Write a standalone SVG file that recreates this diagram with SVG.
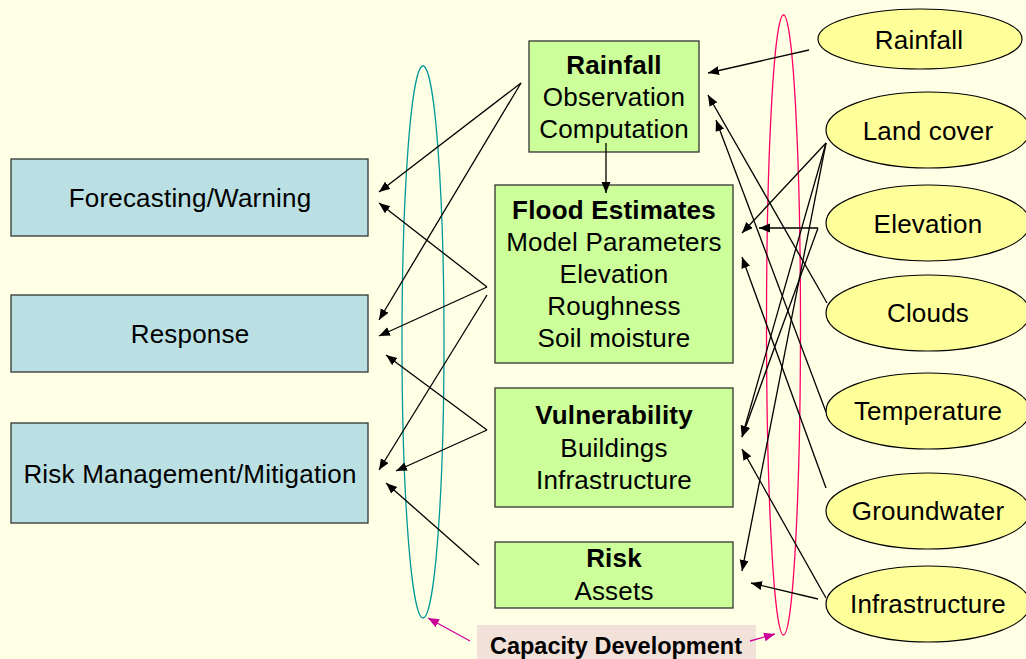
<svg xmlns="http://www.w3.org/2000/svg" width="1026" height="659" viewBox="0 0 1026 659">
<style>
text{font-family:"Liberation Sans",Arial,sans-serif;font-size:26px;letter-spacing:0.2px;fill:#000;text-anchor:middle}
.b{font-weight:bold}
.blue{fill:#BBE0E3;stroke:#333;stroke-width:1.3}
.green{fill:#CCFF99;stroke:#333;stroke-width:1.3}
.oval{fill:#FFFF99;stroke:#000;stroke-width:1.2}
.c{stroke:#000;stroke-width:1.3;fill:none;marker-end:url(#ah)}
.m{stroke:#CC0099;stroke-width:1.3;fill:none;marker-end:url(#ahm)}
</style>
<defs>
<marker id="ah" markerUnits="userSpaceOnUse" markerWidth="12" markerHeight="10" refX="11" refY="4.5" orient="auto"><path d="M0,0 L11,4.5 L0,9 z" fill="#000"/></marker>
<marker id="ahm" markerUnits="userSpaceOnUse" markerWidth="12" markerHeight="10" refX="11" refY="4.5" orient="auto"><path d="M0,0 L11,4.5 L0,9 z" fill="#CC0099"/></marker>
</defs>
<rect width="1026" height="659" fill="#FFFFE5"/>

<g id="forecasting"><rect class="blue" x="11" y="159" width="357" height="77"/><text x="190" y="207">Forecasting/Warning</text></g>
<g id="response"><rect class="blue" x="11" y="295" width="357" height="77"/><text x="190" y="343">Response</text></g>
<g id="riskmgmt"><rect class="blue" x="11" y="423" width="357" height="100"/><text x="190" y="483">Risk Management/Mitigation</text></g>

<g id="rainfall-box"><rect class="green" x="529" y="41" width="170" height="111"/><text class="b" x="614" y="74">Rainfall</text><text x="614" y="106">Observation</text><text x="614" y="138">Computation</text></g>
<g id="flood-box"><rect class="green" x="495" y="185" width="238" height="178"/><text class="b" x="614" y="219">Flood Estimates</text><text x="614" y="251">Model Parameters</text><text x="614" y="283">Elevation</text><text x="614" y="315">Roughness</text><text x="614" y="347">Soil moisture</text></g>
<g id="vuln-box"><rect class="green" x="495" y="388" width="238" height="119"/><text class="b" x="614" y="424">Vulnerability</text><text x="614" y="457">Buildings</text><text x="614" y="489">Infrastructure</text></g>
<g id="risk-box"><rect class="green" x="495" y="542" width="238" height="66"/><text class="b" x="614" y="567">Risk</text><text x="614" y="600">Assets</text></g>

<g id="e-rainfall"><ellipse class="oval" cx="920" cy="39" rx="102" ry="30"/><text x="919" y="49">Rainfall</text></g>
<g id="e-landcover"><ellipse class="oval" cx="928" cy="130" rx="102" ry="38"/><text x="928" y="140">Land cover</text></g>
<g id="e-elevation"><ellipse class="oval" cx="928" cy="223" rx="102" ry="38"/><text x="928" y="233">Elevation</text></g>
<g id="e-clouds"><ellipse class="oval" cx="928" cy="313" rx="102" ry="38"/><text x="928" y="322">Clouds</text></g>
<g id="e-temperature"><ellipse class="oval" cx="928" cy="411" rx="102" ry="38"/><text x="928" y="420">Temperature</text></g>
<g id="e-groundwater"><ellipse class="oval" cx="928" cy="511" rx="102" ry="38"/><text x="928" y="520">Groundwater</text></g>
<g id="e-infrastructure"><ellipse class="oval" cx="928" cy="604" rx="102" ry="38"/><text x="928" y="613">Infrastructure</text></g>

<g id="capacity"><rect x="477" y="625" width="279" height="40" fill="#F2E1D9"/><text class="b" x="616" y="654" style="font-size:23.5px;letter-spacing:0">Capacity Development</text></g>
<g id="capacity-rings"><ellipse cx="423" cy="342" rx="21" ry="276" fill="none" stroke="#009999" stroke-width="1.3"/><ellipse cx="783.5" cy="325" rx="17" ry="310" fill="none" stroke="#FF0066" stroke-width="1.3"/></g>

<g id="connectors">
<line class="c" x1="521" y1="83" x2="379" y2="192"/>
<line class="c" x1="521" y1="83" x2="379" y2="320"/>
<line class="c" x1="487" y1="287" x2="379" y2="203"/>
<line class="c" x1="487" y1="287" x2="379" y2="336"/>
<line class="c" x1="487" y1="295" x2="379" y2="470"/>
<line class="c" x1="487" y1="430" x2="386" y2="355"/>
<line class="c" x1="487" y1="430" x2="396" y2="471"/>
<line class="c" x1="479" y1="565" x2="386" y2="483"/>
<line class="c" x1="606" y1="143" x2="606" y2="193"/>
<line class="c" x1="809" y1="50" x2="708" y2="73"/>
<line class="c" x1="827" y1="303" x2="708" y2="95"/>
<line class="c" x1="826" y1="412" x2="716" y2="120"/>
<line class="c" x1="826" y1="143" x2="742" y2="233"/>
<line class="c" x1="826" y1="143" x2="742" y2="437"/>
<line class="c" x1="826" y1="143" x2="742" y2="571"/>
<line class="c" x1="818" y1="228" x2="759" y2="228"/>
<line class="c" x1="818" y1="228" x2="742" y2="437"/>
<line class="c" x1="826" y1="488" x2="742" y2="257"/>
<line class="c" x1="826" y1="598" x2="742" y2="449"/>
<line class="c" x1="818" y1="599" x2="751" y2="583"/>
<line class="m" x1="470" y1="641" x2="428" y2="618"/>
<line class="m" x1="750" y1="641" x2="775" y2="634"/>
</g>
</svg>
